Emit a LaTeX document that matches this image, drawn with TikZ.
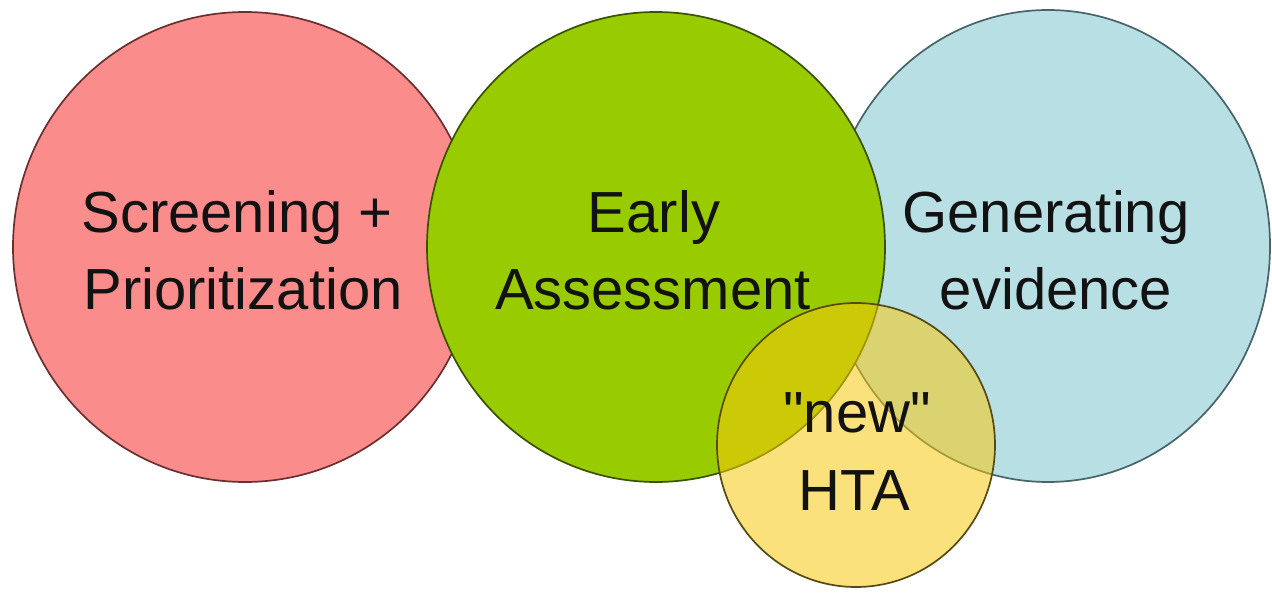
\documentclass[tikz,border=0pt]{standalone}
\usepackage{fontspec}
\setmainfont{Liberation Sans}[Ligatures=TeXOff]
\definecolor{redfill}{HTML}{FA8C8C}
\definecolor{redline}{HTML}{6A3030}
\definecolor{greenfill}{HTML}{99CC00}
\definecolor{greenline}{HTML}{3A5200}
\definecolor{bluefill}{HTML}{B8DFE4}
\definecolor{blueline}{HTML}{46646A}
\definecolor{yellowfill}{HTML}{F9C90E}
\definecolor{yellowline}{HTML}{564A14}
\definecolor{txt}{HTML}{121212}
\begin{document}
\begin{tikzpicture}[x=1pt, y=-1pt,
  set/.style={line width=1.7pt},
  lbl/.style={anchor=base, inner sep=0pt, text=txt,
              font=\fontsize{58}{70}\selectfont}]
  % canvas
  \useasboundingbox (0,0) rectangle (1272,593);
  \fill[white] (0,0) rectangle (1272,593);

  % the three main sets, back to front
  \filldraw[set, fill=redfill,   draw=redline]   (245,247)  ellipse [x radius=232, y radius=235];
  \filldraw[set, fill=bluefill,  draw=blueline]  (1048,246) ellipse [x radius=222, y radius=236];
  \filldraw[set, fill=greenfill, draw=greenline] (656,247)  ellipse [x radius=229, y radius=235];

  % translucent overlap set
  \filldraw[set, fill=yellowfill, fill opacity=0.54, draw=yellowline]
    (856,445) ellipse [x radius=139, y radius=142];

  % labels
  \node[lbl] (scr)   at (237,233)  {Screening +};
  \node[lbl] (prio)  at (243,310)  {Prioritization};
  \node[lbl] (early) at (654,233)  {Early};
  \node[lbl] (assm)  at (653,310)  {Assessment};
  \node[lbl] (gen)   at (1046,233) {Generating};
  \node[lbl] (evid)  at (1056,310) {evidence};
  \node[lbl] (new)   at (857,432)  {"new"};
  \node[lbl] (hta)   at (854,510)  {HTA};
\end{tikzpicture}
\end{document}
